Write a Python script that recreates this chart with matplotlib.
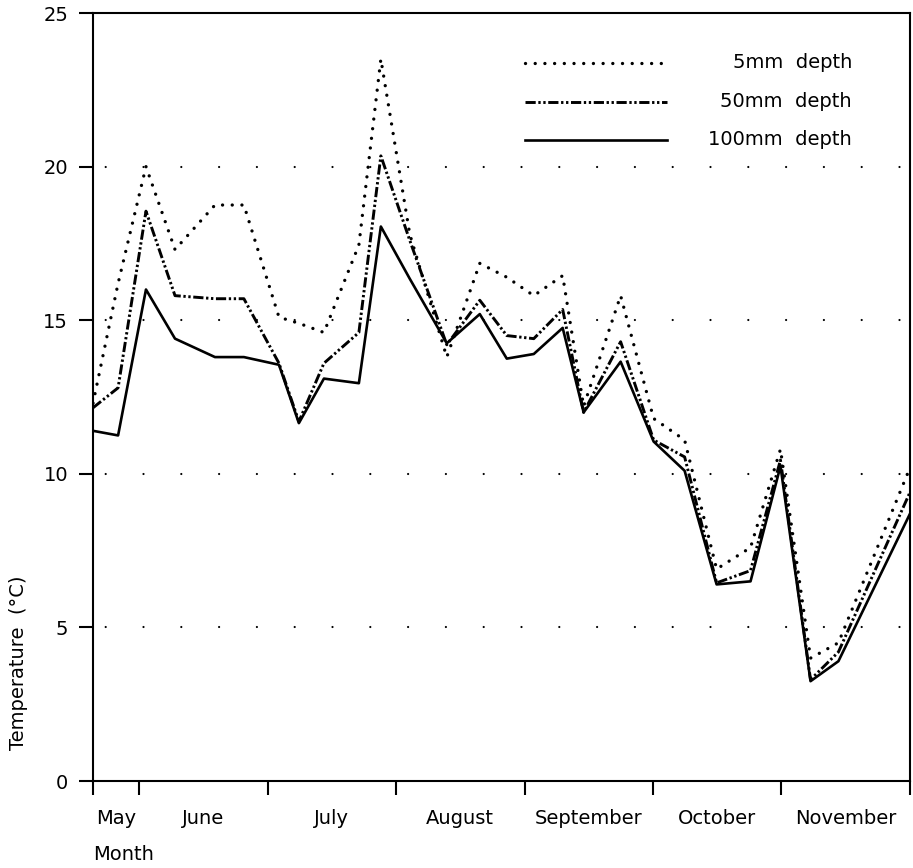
import matplotlib.pyplot as plt

# sampling dates as month offsets (0 = 1 June, 1 = 1 July, ...)
dates = [-0.358, -0.163, 0.054, 0.280, 0.591, 0.816, 1.089, 1.244, 1.439, 1.711,
         1.882, 2.107, 2.395, 2.652, 2.862, 3.072, 3.297, 3.460, 3.748, 4.005,
         4.246, 4.495, 4.759, 4.992, 5.226, 5.443, 6.0]

# soil temperature (deg C) at three depths
temp_5mm = [12.3, 16.2, 20.0, 17.3, 18.75, 18.75, 15.1, 14.9, 14.6, 17.45,
            23.5, 17.8, 13.8, 16.85, 16.4, 15.8, 16.45, 12.2, 15.8, 11.8,
            11.1, 6.9, 7.6, 10.8, 4.0, 4.5, 10.2]
temp_50mm = [12.15, 12.8, 18.55, 15.8, 15.7, 15.7, 13.6, 11.7, 13.6, 14.6,
             20.35, 17.6, 14.2, 15.65, 14.5, 14.4, 15.35, 12.0, 14.3, 11.1,
             10.55, 6.45, 6.85, 10.45, 3.3, 4.2, 9.4]
temp_100mm = [11.4, 11.25, 16.0, 14.4, 13.8, 13.8, 13.55, 11.65, 13.1, 12.95,
              18.05, 16.35, 14.25, 15.2, 13.75, 13.9, 14.75, 12.0, 13.65, 11.05,
              10.1, 6.4, 6.5, 10.25, 3.25, 3.9, 8.7]

month_edges = [-0.358, 0, 1, 2, 3, 4, 5, 6]
month_names = ['May', 'June', 'July', 'August', 'September', 'October', 'November']

series = [
    (temp_5mm, '5mm  depth', dict(linestyle=(0, (0.01, 2.9)), linewidth=2.4,
                                  dash_capstyle='round')),
    (temp_50mm, '50mm  depth', dict(linestyle=(0, (3.5, 0.9, 0.8, 0.9, 0.8, 0.9)),
                                    linewidth=2.1)),
    (temp_100mm, '100mm  depth', dict(linestyle='-', linewidth=1.9)),
]

plt.rcParams['font.family'] = 'DejaVu Sans'
fig = plt.figure(figsize=(9.13, 8.68), dpi=100)
ax = fig.add_axes([0.1019, 0.1002, 0.8948, 0.8848])

for values, label, style in series:
    ax.plot(dates, values, color='black', **style)

ax.set_xlim(month_edges[0], month_edges[-1])
ax.set_ylim(0, 25)

# month boundaries as ticks, month names centred between them
ax.set_xticks(month_edges)
ax.set_xticklabels([])
mids = [(a + b) / 2 for a, b in zip(month_edges[:-1], month_edges[1:])]
ax.set_xticks(mids, minor=True)
ax.set_xticklabels(month_names, minor=True, fontsize=14)
ax.tick_params(axis='x', which='minor', length=0, pad=20)
ax.tick_params(axis='x', which='major', length=10, width=1.5, direction='out')

ax.set_yticks([0, 5, 10, 15, 20, 25])
ax.tick_params(axis='y', length=10, width=1.5, direction='out', labelsize=14, pad=8)

for s in ax.spines.values():
    s.set_linewidth(1.5)

# sparse dotted reference lines
for yv in [5, 10, 15, 20]:
    ax.axhline(yv, color='black', linewidth=1.6, linestyle=(11.3, (0.01, 17.0)),
               dash_capstyle='round', zorder=0)

# legend drawn by hand: line sample on the left, right-aligned label
leg_y = [0.935, 0.8845, 0.835]
for (values, label, style), yy in zip(series, leg_y):
    ax.plot([0.529, 0.703], [yy, yy], color='black', transform=ax.transAxes, **style)
    ax.text(0.929, yy, label, transform=ax.transAxes, ha='right', va='center',
            fontsize=14)

fig.text(0.102, 0.015, 'Month', fontsize=14, ha='left', va='center')
fig.text(0.02, 0.237, 'Temperature  (°C)', fontsize=14, rotation=90,
         ha='center', va='center')

fig.savefig('out.png', dpi=100)
